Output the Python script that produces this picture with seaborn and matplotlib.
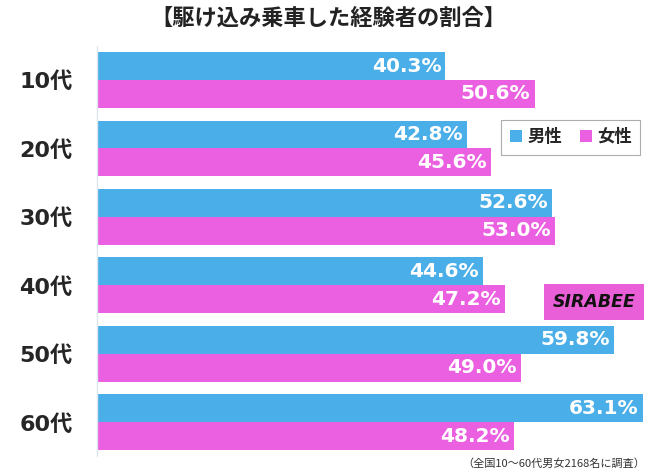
import pandas as pd
import matplotlib.pyplot as plt
import seaborn as sns
from matplotlib.patches import Patch

ages = ["10代", "20代", "30代", "40代", "50代", "60代"]
male = [40.3, 42.8, 52.6, 44.6, 59.8, 63.1]
female = [50.6, 45.6, 53.0, 47.2, 49.0, 48.2]
series = ["男性", "女性"]
colors = ["#4aaee8", "#ea60e0"]

sns.set_style("white")
plt.rcParams["font.family"] = ["Noto Sans CJK JP", "DejaVu Sans"]
num_font = ["DejaVu Sans", "Noto Sans CJK JP"]

df = pd.DataFrame({
    "age": ages * 2,
    "sex": [series[0]] * len(ages) + [series[1]] * len(ages),
    "value": male + female,
})

fig = plt.figure(figsize=(6.61, 4.72), dpi=100)
ax = fig.add_axes([0.1467, 0.033, 0.853, 0.870])

sns.barplot(data=df, y="age", x="value", hue="sex", order=ages, hue_order=series,
            palette=colors, orient="h", width=0.816, gap=0, saturation=1,
            legend=False, ax=ax, edgecolor="none")

for cont in ax.containers:
    for bar in cont:
        w = bar.get_width()
        cy = bar.get_y() + bar.get_height() / 2
        ax.annotate(f"{w:.1f}%", (w, cy), xytext=(-3, 0), textcoords="offset points",
                    ha="right", va="center", color="white", fontsize=14.5,
                    fontweight="bold", family=num_font)

ax.set_xlim(0, 65.2)
ax.set_ylim(5.5, -0.5)
ax.set_xlabel("")
ax.set_ylabel("")
ax.set_xticks([])
ax.tick_params(axis="y", length=0, pad=17.5)
for lab in ax.get_yticklabels():
    lab.set_fontweight("bold")
    lab.set_family(num_font)
    lab.set_fontsize(16)
for s in ["top", "right", "bottom"]:
    ax.spines[s].set_visible(False)
ax.spines["left"].set_color("#dde6ee")
ax.spines["left"].set_linewidth(1)

fig.text(0.497, 0.962, "【駆け込み乗車した経験者の割合】", ha="center", va="center",
         fontsize=16, fontweight="bold", color="#222222")
fig.text(0.976, 0.018, "（全国10〜60代男女2168名に調査）", ha="right", va="center",
         fontsize=8, color="#333333")

handles = [Patch(facecolor=c, edgecolor="none") for c in colors]
leg = fig.legend(handles, series, loc="upper right", bbox_to_anchor=(0.982, 0.765),
                 ncol=2, frameon=True, fancybox=False, handlelength=0.7,
                 handleheight=0.7, handletextpad=0.3, columnspacing=1.0,
                 prop={"weight": "bold", "size": 12.5}, borderpad=0.5)
leg.get_frame().set_edgecolor("#999999")
leg.get_frame().set_linewidth(0.8)

# logo box
fig.text(0.899, 0.360, "SIRABEE", ha="center", va="center", fontsize=12.5,
         fontweight="bold", fontstyle="italic", color="#111111", family="DejaVu Sans",
         bbox=dict(boxstyle="square,pad=0.5", facecolor="#e95fd8", edgecolor="none"))

fig.savefig("out.png", dpi=100)
